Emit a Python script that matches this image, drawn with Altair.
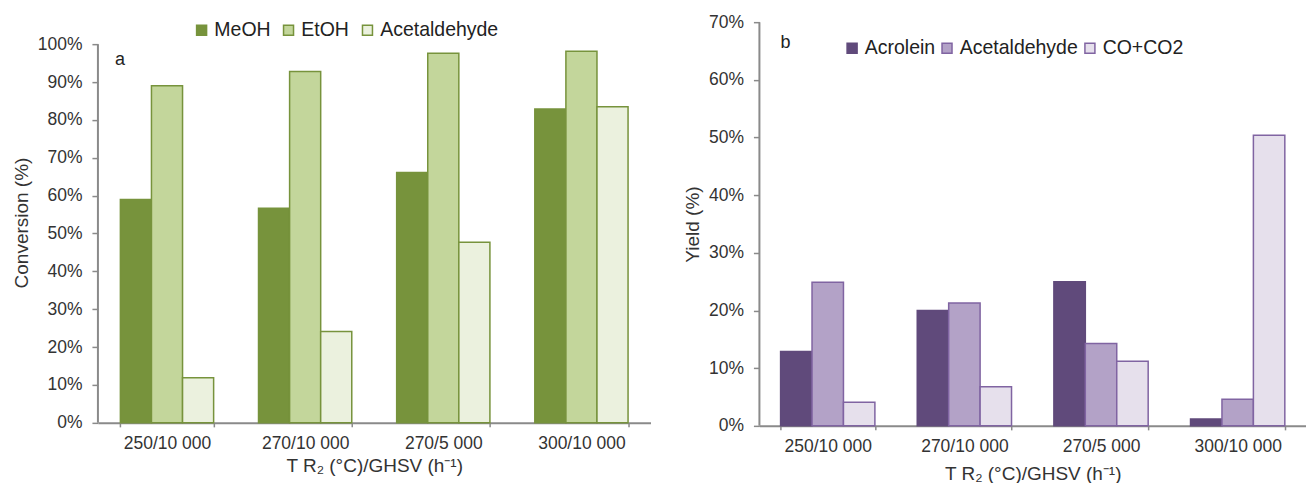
import altair as alt
import pandas as pd

categories = ["250/10 000", "270/10 000", "270/5 000", "300/10 000"]

conv_series = ["MeOH", "EtOH", "Acetaldehyde"]
meoh = [59.0, 56.7, 66.1, 82.9]
etoh = [89.0, 92.8, 97.6, 98.1]
acet_conv = [11.9, 24.1, 47.7, 83.5]

yield_series = ["Acrolein", "Acetaldehyde", "CO+CO2"]
acrolein = [12.9, 20.0, 25.0, 1.2]
acet_yield = [24.9, 21.3, 14.3, 4.6]
cox = [4.1, 6.8, 11.2, 50.4]

left_ticks = [0, 10, 20, 30, 40, 50, 60, 70, 80, 90, 100]
right_ticks = [0, 10, 20, 30, 40, 50, 60, 70]

FONT = "Liberation Sans"
TEXT = "#333333"
AXIS = "#8a8a8a"
XTITLE = "T R\u2082 (\u00b0C)/GHSV (h\u207b\u00b9)"


def long_table(names, arrays):
    rows = []
    for s, vals in zip(names, arrays):
        for c, v in zip(categories, vals):
            rows.append({"cat": c, "series": s, "value": v})
    return pd.DataFrame(rows)


left_df = long_table(conv_series, [meoh, etoh, acet_conv])
right_df = long_table(yield_series, [acrolein, acet_yield, cox])


def panel(df, series, fills, strokes, ymax, dmax, ticks, width, height, ytitle,
          pad_inner, legend_x, legend_y, col_pad, tag, tag_x, tag_y, title_pad_x):
    x = alt.X(
        "cat:N", sort=categories, title=XTITLE,
        scale=alt.Scale(paddingInner=pad_inner, paddingOuter=pad_inner / 2),
        axis=alt.Axis(labelAngle=0, tickBand="extent", tickSize=4,
                      labelPadding=8, titlePadding=title_pad_x),
    )
    y = alt.Y(
        "value:Q", title=ytitle,
        scale=alt.Scale(domain=[0, dmax], nice=False, zero=True),
        axis=alt.Axis(values=ticks, labelExpr="datum.value + '%'", grid=False,
                      domain=False, tickSize=6, labelPadding=10, titlePadding=6),
    )
    leg = alt.Legend(orient="none", legendX=legend_x, legendY=legend_y,
                     direction="horizontal", title=None, columnPadding=col_pad)
    bars = alt.Chart(df).mark_bar(strokeWidth=1.5).encode(
        x=x,
        y=y,
        xOffset=alt.XOffset("series:N", sort=series),
        fill=alt.Fill("series:N", sort=series,
                      scale=alt.Scale(domain=series, range=fills), legend=leg),
        stroke=alt.Stroke("series:N", sort=series,
                          scale=alt.Scale(domain=series, range=strokes), legend=leg),
    )
    # y-axis line drawn only from 0 to the top tick value
    axis_line = alt.Chart(pd.DataFrame({"lo": [0], "hi": [ymax]})).mark_rule(
        color=AXIS, strokeWidth=2
    ).encode(x=alt.value(0), y="lo:Q", y2="hi:Q")
    label = alt.Chart(pd.DataFrame({"t": [tag]})).mark_text(
        align="left", baseline="middle", fontSize=18, font=FONT, color="#222222"
    ).encode(x=alt.value(tag_x), y=alt.value(tag_y), text="t:N")
    return alt.layer(bars, axis_line, label).properties(width=width, height=height)


left = panel(left_df, conv_series,
             ["#77933C", "#C3D69B", "#EBF1DE"],
             ["#77933C", "#77933C", "#77933C"],
             100, 105.8, left_ticks, 553, 401, "Conversion (%)",
             0.325, 94, -2, 8, "a", 17, 38, 4)

right = panel(right_df, yield_series,
              ["#604A7B", "#B3A2C7", "#E6E0EC"],
              ["#604A7B", "#8064A2", "#8064A2"],
              70, 70, right_ticks, 547, 404, "Yield (%)",
              0.31, 83, 16, 2, "b", 21, 21, 9)

chart = alt.hconcat(left, right, spacing=32).resolve_scale(
    x="independent", y="independent", xOffset="independent",
    fill="independent", stroke="independent",
).resolve_legend(fill="independent", stroke="independent").properties(
    padding={"left": 4, "top": 5, "right": 0, "bottom": 0}
).configure_view(stroke=None).configure_axis(
    domainColor=AXIS, domainWidth=2, tickColor=AXIS, tickWidth=1.5,
    labelFont=FONT, labelFontSize=17.5, labelColor=TEXT,
    titleFont=FONT, titleFontSize=19, titleFontWeight="normal", titleColor=TEXT,
).configure_legend(
    labelFont=FONT, labelFontSize=19.5, labelColor="#222222", symbolType="square",
    symbolSize=100, symbolStrokeWidth=1.5, labelOffset=3, padding=0,
)

chart.save("out.html", embed_options={"renderer": "svg", "actions": False})
